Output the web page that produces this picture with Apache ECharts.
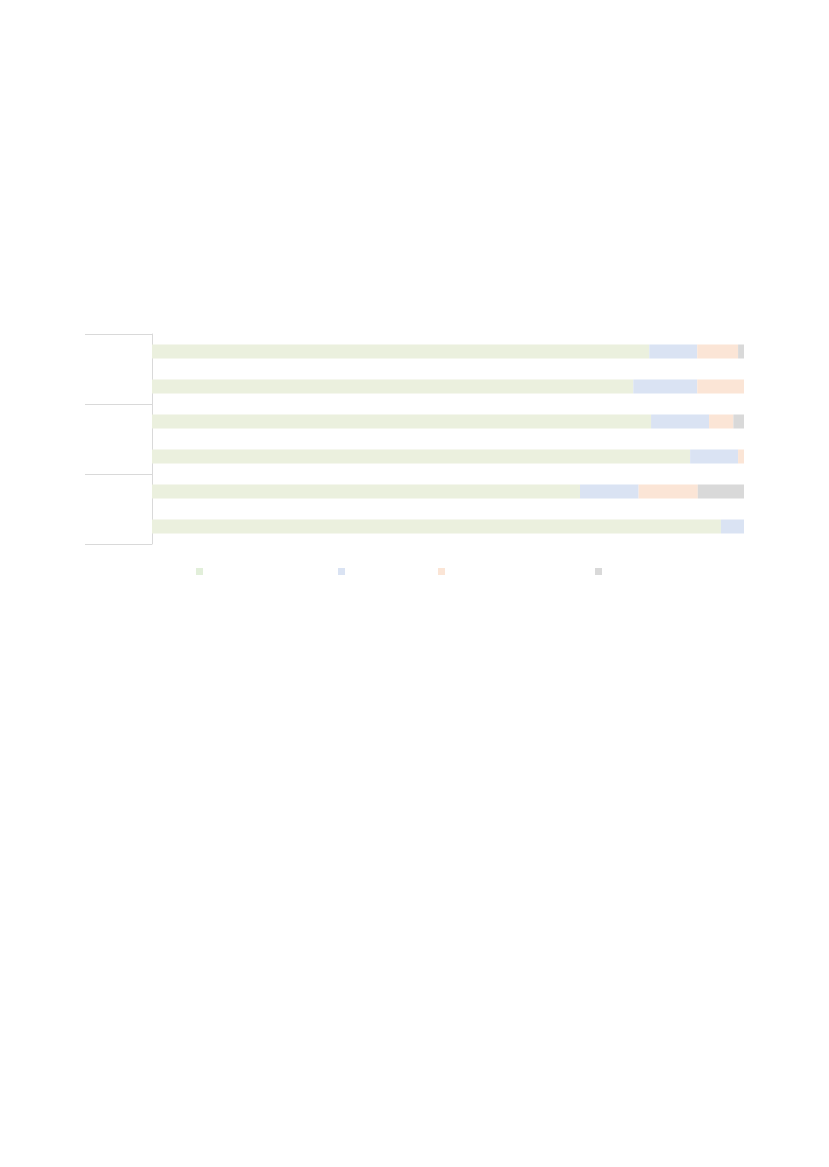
<!DOCTYPE html>
<html>
<head>
<meta charset="utf-8">
<script src="https://cdn.jsdelivr.net/npm/echarts@6/dist/echarts.min.js"></script>
<style>html,body{margin:0;padding:0;background:#fff}#c{width:829px;height:1167px}</style>
</head>
<body>
<div id="c"></div>
<script>
const categories = ['r1','r2','r3','r4','r5','r6'];
const groups = ['g1','g2','g3'];
const seriesNames = ['s1','s2','s3','s4'];
const s1 = [84.0, 81.3, 84.3, 90.9, 72.3, 96.1];
const s2 = [8.1, 10.8, 9.8, 8.1, 9.9, 3.9];
const s3 = [6.9, 7.9, 4.1, 1.0, 10.0, 0];
const s4 = [1.0, 0, 1.8, 0, 7.8, 0];
const seriesValues = [s1, s2, s3, s4];
const barColors = ['#EBF0DE', '#DAE3F3', '#FBE5D6', '#D9D9D9'];
const legendColors = ['#E2EFDA', '#DAE3F3', '#FBE5D6', '#D9D9D9'];
const legendLefts = [191, 333, 433, 590];

const chart = echarts.init(document.getElementById('c'), null, {renderer: 'canvas'});
chart.setOption({
  animation: false,
  backgroundColor: '#ffffff',
  grid: {left: 152, right: 85, top: 334, height: 210, containLabel: false},
  xAxis: {type: 'value', min: 0, max: 100, show: false},
  yAxis: [
    {type: 'category', data: categories, inverse: true,
     axisLine: {show: true, lineStyle: {color: '#D9D9D9', width: 1}},
     axisTick: {show: false}, axisLabel: {show: false}, splitLine: {show: false}},
    {type: 'category', data: groups, inverse: true, position: 'left',
     axisLine: {show: false},
     axisTick: {show: true, length: 67, lineStyle: {color: '#D9D9D9', width: 1}},
     axisLabel: {show: false}, splitLine: {show: false}}
  ],
  legend: seriesNames.map((n, i) => ({
    left: legendLefts[i], top: 563, itemWidth: 7, itemHeight: 7,
    icon: 'rect', selectedMode: false,
    formatter: () => '',
    data: [{name: n, itemStyle: {color: legendColors[i]}}]
  })),
  series: seriesNames.map((n, i) => ({
    name: n, type: 'bar', stack: 'total', yAxisIndex: 0,
    barWidth: 14,
    itemStyle: {color: barColors[i]},
    data: seriesValues[i]
  }))
});
</script>
</body>
</html>
